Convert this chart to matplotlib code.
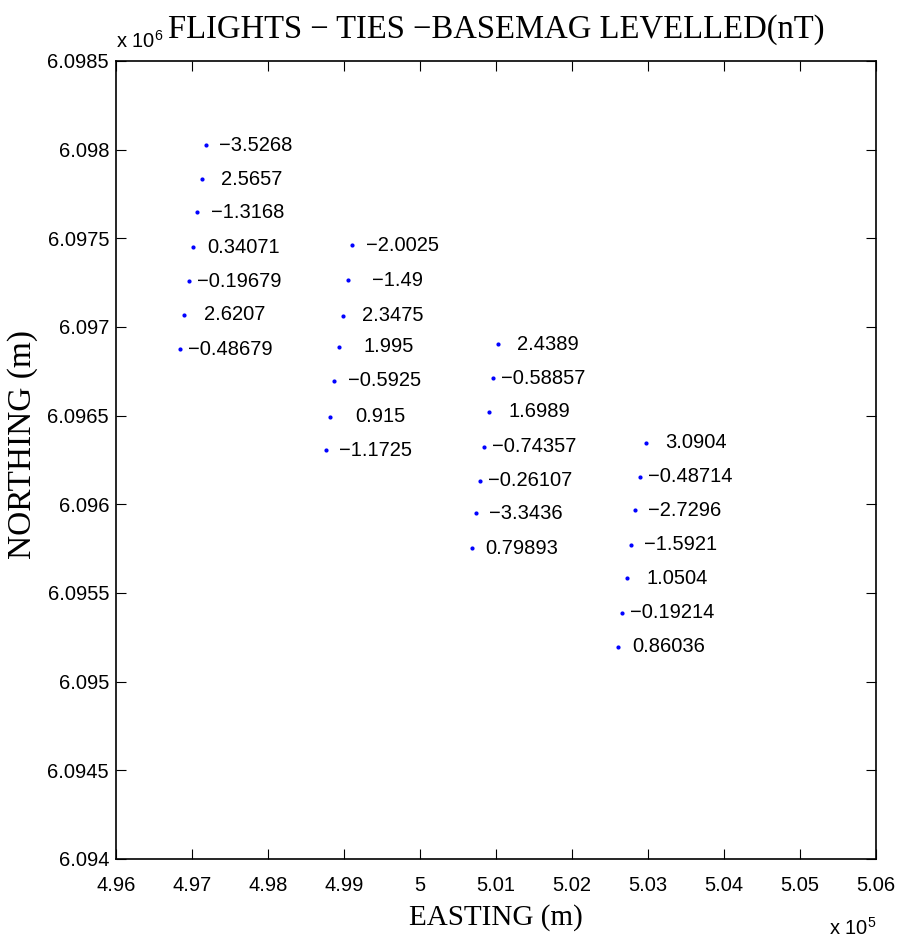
import matplotlib
matplotlib.use("Agg")
import matplotlib.pyplot as plt
import numpy as np

# Survey tie points (easting, northing in metres) and levelled differences (nT)
easting = [497180, 497128, 497070, 497017, 496961, 496899, 496842,
           499109, 499049, 498987, 498934, 498872, 498816, 498759,
           501022, 500964, 500908, 500846, 500789, 500733, 500680,
           502970, 502895, 502829, 502776, 502720, 502662, 502609]
northing = [6098026, 6097833, 6097647, 6097449, 6097259, 6097068, 6096874,
            6097462, 6097265, 6097064, 6096889, 6096696, 6096494, 6096306,
            6096904, 6096711, 6096522, 6096325, 6096133, 6095949, 6095752,
            6096348, 6096156, 6095968, 6095771, 6095583, 6095389, 6095197]
labels = ["\u22123.5268", "2.5657", "\u22121.3168", "0.34071", "\u22120.19679", "2.6207", "\u22120.48679",
          "\u22122.0025", "\u22121.49", "2.3475", "1.995", "\u22120.5925", "0.915", "\u22121.1725",
          "2.4389", "\u22120.58857", "1.6989", "\u22120.74357", "\u22120.26107", "\u22123.3436", "0.79893",
          "3.0904", "\u22120.48714", "\u22122.7296", "\u22121.5921", "1.0504", "\u22120.19214", "0.86036"]

xticks = [496000, 497000, 498000, 499000, 500000, 501000, 502000, 503000, 504000, 505000, 506000]
xticklabels = ["4.96", "4.97", "4.98", "4.99", "5", "5.01", "5.02", "5.03", "5.04", "5.05", "5.06"]
yticks = [6094000, 6094500, 6095000, 6095500, 6096000, 6096500, 6097000, 6097500, 6098000, 6098500]
yticklabels = ["6.094", "6.0945", "6.095", "6.0955", "6.096", "6.0965", "6.097", "6.0975", "6.098", "6.0985"]

plt.rcParams['font.family'] = ['Liberation Sans', 'DejaVu Sans']
plt.rcParams['mathtext.fontset'] = 'custom'
plt.rcParams['mathtext.rm'] = 'Liberation Sans'
plt.rcParams['mathtext.it'] = 'Liberation Sans'

fig = plt.figure(figsize=(8.97, 9.39), dpi=100)
ax = fig.add_axes([116/897, 80/939, 760/897, 798/939])

ax.plot(easting, northing, linestyle='none', marker='.', color='#0000ff', markersize=4)
for x, y, s in zip(easting, northing, labels):
    ax.annotate(s, (x, y), xytext=(50, 0), textcoords='offset pixels',
                ha='center', va='center', fontsize=14.5, color='black')

ax.set_xlim(496000, 506000)
ax.set_ylim(6094000, 6098500)
ax.set_xticks(xticks)
ax.set_xticklabels(xticklabels)
ax.set_yticks(yticks)
ax.set_yticklabels(yticklabels)
ax.tick_params(direction='in', length=7, width=0.8, top=True, right=True, labelsize=14.5)
ax.tick_params(axis='x', pad=12)
ax.tick_params(axis='y', pad=5)
for sp in ax.spines.values():
    sp.set_linewidth(1.2)

serif = ['Liberation Serif', 'DejaVu Serif']
ax.set_title("FLIGHTS \u2212 TIES \u2212BASEMAG LEVELLED(nT)", family=serif, fontsize=23.5, pad=17)
ax.set_xlabel("EASTING (m)", family=serif, fontsize=21)
ax.set_ylabel("NORTHING (m)", family=serif, fontsize=24)
ax.xaxis.set_label_coords(0.5, -0.056)
ax.yaxis.set_label_coords(-0.103, 0.52)

ax.text(0.0, 1.012, r"x 10$^{6}$", transform=ax.transAxes, ha='left', va='bottom', fontsize=14.5)
ax.text(1.0, -0.072, r"x 10$^{5}$", transform=ax.transAxes, ha='right', va='top', fontsize=14.5)

fig.savefig("out.png", dpi=100)
